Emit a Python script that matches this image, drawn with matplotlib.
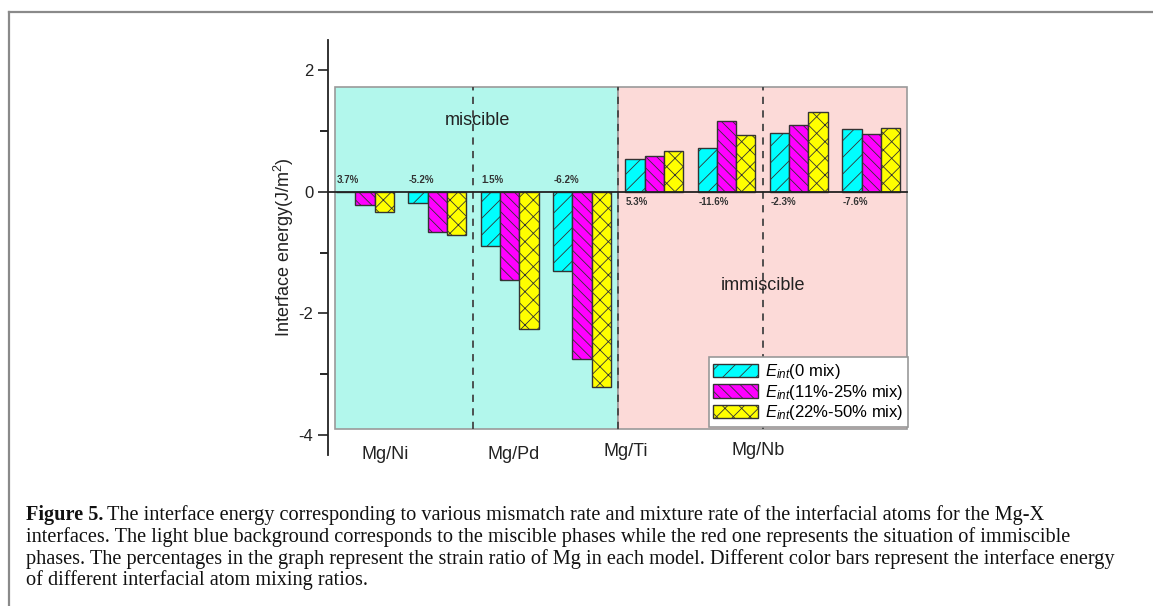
import numpy as np
import matplotlib
matplotlib.use("Agg")
import matplotlib.pyplot as plt
from matplotlib.patches import Rectangle
from matplotlib.lines import Line2D

plt.rcParams['font.family'] = ['Liberation Sans', 'DejaVu Sans']
plt.rcParams['mathtext.fontset'] = 'custom'
plt.rcParams['mathtext.rm'] = 'Liberation Sans'
plt.rcParams['mathtext.it'] = 'Liberation Sans:italic'
plt.rcParams['mathtext.default'] = 'regular'
plt.rcParams['axes.unicode_minus'] = False
plt.rcParams['hatch.linewidth'] = 0.6

# data
systems = ["Mg/Ni", "Mg/Pd", "Mg/Ti", "Mg/Nb"]
strain = ["3.7%", "-5.2%", "1.5%", "-6.2%", "5.3%", "-11.6%", "-2.3%", "-7.6%"]
e_0mix = [0.0, -0.19, -0.90, -1.30, 0.54, 0.72, 0.97, 1.03]
e_11_25 = [-0.22, -0.66, -1.46, -2.75, 0.58, 1.17, 1.09, 0.95]
e_22_50 = [-0.34, -0.71, -2.26, -3.22, 0.67, 0.93, 1.31, 1.04]
labels = [r"$\mathit{E}_{\mathit{int}}$(0 mix)",
          r"$\mathit{E}_{\mathit{int}}$(11%-25% mix)",
          r"$\mathit{E}_{\mathit{int}}$(22%-50% mix)"]

fig = plt.figure(figsize=(11.53, 6.06), dpi=100)
ax = fig.add_axes([0.2845, 0.2492, 0.5087, 0.6853])

x = np.arange(len(strain))
w = 0.267

# backgrounds
ax.add_patch(Rectangle((-0.42, -3.9), 3.92, 5.63, facecolor="#b2f7ec",
                       edgecolor="#9a9a9a", lw=1.2, zorder=0))
ax.add_patch(Rectangle((3.5, -3.9), 4.0, 5.63, facecolor="#fcdad8",
                       edgecolor="#9a9a9a", lw=1.2, zorder=0))
for xv in [1.5, 3.5, 5.5]:
    ax.plot([xv, xv], [-3.9, 1.73], color="#444444", lw=1.3,
            ls=(0, (4, 3.5)), zorder=1)

b1 = ax.bar(x - w, e_0mix, w, color="#00ffff", edgecolor="#333333",
            hatch="//", lw=1, zorder=3)
b2 = ax.bar(x, e_11_25, w, color="#ff00ff", edgecolor="#333333",
            hatch="\\\\\\", lw=1, zorder=3)
b3 = ax.bar(x + w, e_22_50, w, color="#ffff00", edgecolor="#333333",
            hatch="xx", lw=1, zorder=3)

ax.plot([-0.51, 7.5], [0, 0], color="#222222", lw=1.3, zorder=4)

for i, s in enumerate(strain):
    yy = 0.19 if i < 4 else -0.17
    ax.text(x[i] - 0.39, yy, s, fontsize=7, fontweight="bold",
            color="#333333", ha="left", va="center", zorder=5)

ax.text(1.55, 1.17, "miscible", fontsize=13, ha="center", va="center",
        color="#222222")
ax.text(5.5, -1.55, "immiscible", fontsize=13, ha="center", va="center",
        color="#222222")

sys_x = [0.28, 2.05, 3.6, 5.44]
sys_y = [-4.32, -4.33, -4.28, -4.25]
for sx, sy, s in zip(sys_x, sys_y, systems):
    ax.text(sx, sy, s, fontsize=13, ha="center", va="center",
            color="#222222", clip_on=False)

ax.set_xlim(-0.51, 7.6)
ax.set_ylim(-4.33, 2.5)
ax.set_yticks([-4, -2, 0, 2])
ax.set_yticks([-3, -1, 1], minor=True)
ax.set_xticks([])
for sp in ["top", "right", "bottom"]:
    ax.spines[sp].set_visible(False)
ax.spines["left"].set_linewidth(1.3)
ax.spines["left"].set_color("#222222")
ax.tick_params(axis="y", which="major", length=7, width=1.2,
               labelsize=12, colors="#222222")
ax.tick_params(axis="y", which="minor", length=6, width=1.2)
ax.set_facecolor("none")
ax.set_ylabel(r"Interface energy(J/m$^{2}$)", fontsize=13, labelpad=1.5,
              color="#222222")

leg = ax.legend([b1, b2, b3], labels, loc="lower right",
                bbox_to_anchor=(0.989, 0.067), borderaxespad=0,
                fontsize=12, fancybox=False, framealpha=1,
                edgecolor="#999999", handlelength=2.7, handleheight=0.85,
                handletextpad=0.4, labelspacing=0.1, borderpad=0.28)
leg.get_frame().set_linewidth(1.2)

# figure frame and caption
fig.add_artist(Line2D([9 / 1153, 9 / 1153], [0, 1 - 12 / 606],
                      color="#8a8a8a", lw=1.6))
fig.add_artist(Line2D([9 / 1153, 1], [1 - 12 / 606, 1 - 12 / 606],
                      color="#8a8a8a", lw=1.6))

cap_font = dict(family=["Liberation Serif", "DejaVu Serif"], fontsize=14.6,
                color="#111111")
x0 = 26 / 1153
base = [520, 542, 564, 585]
t1 = fig.text(x0, 1 - base[0] / 606, "Figure 5.", fontweight="bold",
              va="baseline", **cap_font)
fig.canvas.draw()
bb = t1.get_window_extent()
fig.text((bb.x1 + 4) / 1153, 1 - base[0] / 606,
         "The interface energy corresponding to various mismatch rate and "
         "mixture rate of the interfacial atoms for the Mg-X",
         va="baseline", **cap_font)
lines = ["interfaces. The light blue background corresponds to the miscible "
         "phases while the red one represents the situation of immiscible",
         "phases. The percentages in the graph represent the strain ratio of "
         "Mg in each model. Different color bars represent the interface energy",
         "of different interfacial atom mixing ratios."]
for b, s in zip(base[1:], lines):
    fig.text(x0, 1 - b / 606, s, va="baseline", **cap_font)

fig.savefig("out.png", dpi=100)
